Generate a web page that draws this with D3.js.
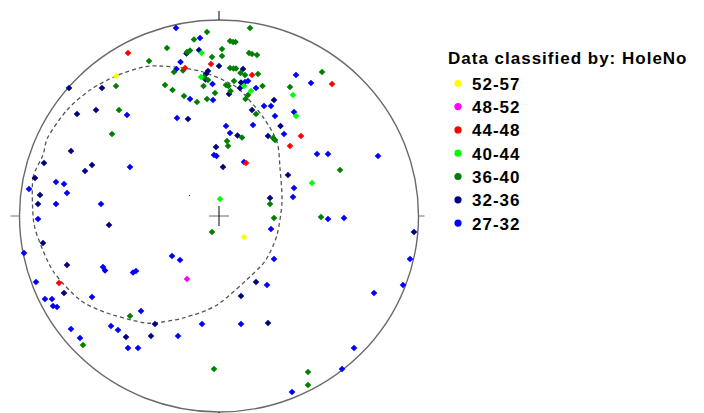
<!DOCTYPE html>
<html>
<head>
<meta charset="utf-8">
<title>Stereonet - HoleNo</title>
<script src="https://d3js.org/d3.v7.min.js"></script>
<style>
  body { margin: 0; background: #fff; }
  text { font-family: "Liberation Sans", Arial, sans-serif; }
</style>
</head>
<body>
<script>
// projected positions, net units (x east, y north), net radius ~ 199.5 x 196
var classLabels = ["52-57", "48-52", "44-48", "40-44", "36-40", "32-36", "27-32"];
var classColors = ["#ffff00", "#ff00ff", "#ff0000", "#00ff00", "#008000", "#000080", "#0000ff"];

var hole5257 = [[-103, 140], [25, -21]];
var hole4852 = [[-32, -63]];
var hole4448 = [[-91, 163], [-8, 152], [-34, 148], [33, 141], [113, 132], [82, 80], [71, 70], [27, 53], [-160, -67]];
var hole4044 = [[-17.5, 163], [-18, 139], [25, 130], [32, 125], [74, 121], [77, 100], [93, 33], [1, 17]];
var hole3640 = [[-103, 130], [-100, 106], [-107, 82], [-12, 184], [31, 188], [-25, 176.5], [11, 175], [14, 174],
  [16.5, 174], [-52, 168], [3, 167], [-32, 164], [-29, 165.5], [30, 163], [33, 162], [38, 161], [-7, 159], [3, 160],
  [-70, 155], [-45, 144], [-36, 145.5], [11, 148], [14.5, 147.5], [17, 147.5], [21.5, 143], [26, 141], [39, 142],
  [-15, 139], [-11, 136], [15, 135], [7, 131], [9.5, 130], [43.5, 130], [-15.5, 130], [-54, 131], [-46.5, 126],
  [11.5, 125], [-4, 123], [-35, 120], [-22, 114], [-12, 117], [29, 121], [26.5, 117], [71, 129], [103, 144],
  [37, 102], [23, 78.5], [8, 75], [9, 70], [54, 78], [56, 76], [121, 46], [51, 12], [55, -2], [-7, -16], [102, -1],
  [-89, -100], [-136, -129], [-5, -153], [89, -156], [89, -169]];
var hole3236 = [[-150, 128], [-117, 128], [-142, 102], [-123, 106], [-20, 166], [-32.5, 162.5], [0, 150], [24, 147],
  [-11, 145], [-13, 142], [-13.5, 136.5], [22, 133.5], [21, 128], [10, 122], [55, 116], [33, 106], [-31, 97],
  [61.5, 90], [18.5, 80.5], [49, 80], [-3, 69], [4, 49], [69, 41], [51, 18], [195, -16], [-148, 65], [-175, 53],
  [-127, 51], [-134, 45], [-184, 38], [-179, 21], [-181, 12], [-110, -9], [-176, -27], [-152, -49], [-155, -77],
  [-93, -121], [37, -66], [22, -80], [-64, -108], [49, -107], [-68, -120]];
var hole2732 = [[-43, 188], [-19, 178], [-38.5, 154], [-42.5, 147], [-6.5, 132], [26, 134], [29, 135], [37, 128],
  [-29, 117], [-6, 116], [45, 110], [52, 110], [56, 100], [-42, 98], [34, 91], [7, 90], [11, 83], [65, 82], [77, 141],
  [92, 133], [75, 104], [-92, 101], [-5, 61], [-2.5, 60], [25, 54], [98, 62], [109, 62], [159, 60], [75, 28], [74, 19],
  [52, -13], [55, -43], [109, -3], [125, -2], [191, -43], [-89, 49], [-163, 34], [-155, 32], [-190, 27], [-152, 23],
  [-163, 12], [-118, 12], [-181, -3], [-195, -37], [-116, -51], [-114, -54.5], [-86, -56.5], [-83, -55], [-47, -40],
  [-39, -44], [-183, -66], [-127, -81], [-174, -83], [-167, -83], [-166, -90], [-162, -91], [-78, -95], [-108, -110],
  [-101, -114], [-148, -113], [-139, -122], [-91, -132], [-81, -132], [48, -69], [-17, -108], [22, -108], [-41, -120],
  [184, -69], [155, -77], [135, -132], [123, -153], [73, -176]];

// dashed small circle, traced
var smallCircle = [[-186, 1], [-186, 38], [-176, 61], [-171, 79], [-152, 106], [-129, 126], [-103, 140], [-76, 149],
  [-59, 150], [-36, 148], [-16, 144], [4, 136], [21, 126], [44, 99], [58, 74], [61, 48], [63, 14], [58, -19],
  [48, -42], [36, -56], [-2, -89], [-36, -102], [-64, -107], [-79, -106], [-112, -97], [-139, -84], [-166, -55],
  [-182, -19]];

var seriesData = [hole5257, hole4852, hole4448, hole4044, hole3640, hole3236, hole2732];

var width = 704, height = 413;
var cx = 219, cy = 216, rx = 199.5, ry = 196;

var svg = d3.select("body").append("svg")
  .attr("width", width)
  .attr("height", height);

var x = d3.scaleLinear().domain([-rx, rx]).range([cx - rx, cx + rx]);
var y = d3.scaleLinear().domain([-ry, ry]).range([cy + ry, cy - ry]);

// primitive circle
svg.append("ellipse")
  .attr("cx", x(0)).attr("cy", y(0))
  .attr("rx", x(rx) - x(0)).attr("ry", y(0) - y(ry))
  .attr("fill", "none")
  .attr("stroke", "#6a6a6a")
  .attr("stroke-width", 1.4);

// N/E/S/W ticks
var tickLen = 9;
svg.append("line").attr("x1", x(0)).attr("x2", x(0)).attr("y1", y(ry)).attr("y2", y(ry) - tickLen).attr("stroke", "#000");
svg.append("line").attr("x1", x(0)).attr("x2", x(0)).attr("y1", y(-ry)).attr("y2", y(-ry) + tickLen).attr("stroke", "#000");
svg.append("line").attr("x1", x(-rx)).attr("x2", x(-rx) - tickLen).attr("y1", y(0)).attr("y2", y(0)).attr("stroke", "#777");
svg.append("line").attr("x1", x(rx)).attr("x2", x(rx) + 6).attr("y1", y(0)).attr("y2", y(0)).attr("stroke", "#777");

// centre cross
svg.append("line").attr("x1", x(-10)).attr("x2", x(10)).attr("y1", y(0)).attr("y2", y(0)).attr("stroke", "#666");
svg.append("line").attr("x1", x(0)).attr("x2", x(0)).attr("y1", y(10)).attr("y2", y(-10)).attr("stroke", "#000");

// dashed small circle
var line = d3.line()
  .x(function(d) { return x(d[0]); })
  .y(function(d) { return y(d[1]); })
  .curve(d3.curveCardinalClosed.tension(0.2));

svg.append("path")
  .datum(smallCircle)
  .attr("d", line)
  .attr("fill", "none")
  .attr("stroke", "#555")
  .attr("stroke-width", 1.3)
  .attr("stroke-dasharray", "4,3");

// stray dot near centre
svg.append("rect").attr("x", x(-30)).attr("y", y(21)).attr("width", 1).attr("height", 1).attr("fill", "#444");

// points, lowest class last so higher classes sit on top
var diamond = d3.symbol().type(d3.symbolSquare).size(22);
for (var k = seriesData.length - 1; k >= 0; k--) {
  svg.append("g")
    .selectAll("path")
    .data(seriesData[k])
    .enter()
    .append("path")
    .attr("d", diamond)
    .attr("transform", function(d) {
      return "translate(" + x(d[0]) + "," + y(d[1]) + ") rotate(45)";
    })
    .attr("fill", classColors[k]);
}

// legend
var legend = svg.append("g").attr("transform", "translate(448,0)");
legend.append("text")
  .attr("x", 0).attr("y", 64)
  .attr("font-size", "17px")
  .attr("font-weight", "bold")
  .attr("letter-spacing", "1px")
  .text("Data classified by: HoleNo");

var rows = legend.selectAll("g.row")
  .data(classLabels)
  .enter()
  .append("g")
  .attr("class", "row")
  .attr("transform", function(d, i) { return "translate(0," + (83.3 + i * 23.3) + ")"; });

rows.append("circle")
  .attr("cx", 10).attr("cy", 0).attr("r", 3.6)
  .attr("fill", function(d, i) { return classColors[i]; });

rows.append("text")
  .attr("x", 24).attr("y", 6.5)
  .attr("font-size", "17px")
  .attr("font-weight", "bold")
  .attr("letter-spacing", "1px")
  .text(function(d) { return d; });
</script>
</body>
</html>
